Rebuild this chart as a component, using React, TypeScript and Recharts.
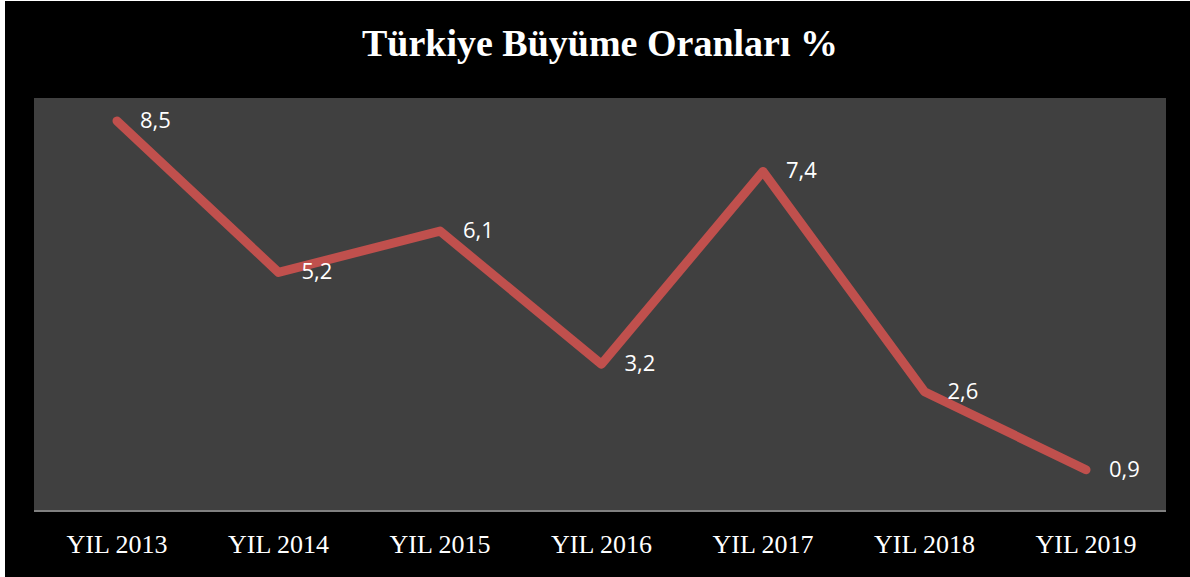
import { LineChart, Line, XAxis, YAxis, LabelList } from 'recharts'

const years = ['YIL 2013', 'YIL 2014', 'YIL 2015', 'YIL 2016', 'YIL 2017', 'YIL 2018', 'YIL 2019']
const growth = [8.5, 5.2, 6.1, 3.2, 7.4, 2.6, 0.9]
const title = 'Türkiye Büyüme Oranları %'

const data = years.map((year, i) => ({ year, value: growth[i] }))

const formatValue = (v: number) => v.toFixed(1).replace('.', ',')

const XTick = ({ x, y, payload }: any) => (
  <text x={x} y={y + 42} textAnchor="middle" fill="#ffffff" fontSize={26} fontFamily="'Liberation Serif', serif">
    {payload.value}
  </text>
)

const ValueLabel = ({ x, y, value }: any) => (
  <text x={x + 23} y={y + 1} dominantBaseline="middle" fill="#ffffff" fontSize={22} fontFamily="'Open Sans', sans-serif">
    {formatValue(value)}
  </text>
)

export default function App() {
  return (
    <div style={{ position: 'absolute', left: 0, top: 0, width: 1190, height: 577, background: '#ffffff' }}>
      <div style={{ position: 'absolute', left: 5, top: 1, width: 1185, height: 576, background: '#000000' }}>
        <div
          style={{
            position: 'absolute',
            left: 0,
            top: 20,
            width: 1190,
            textAlign: 'center',
            color: '#ffffff',
            fontFamily: "'Liberation Serif', serif",
            fontWeight: 'bold',
            fontSize: 38,
            lineHeight: 'normal',
          }}
        >
          {title}
        </div>
        <LineChart width={1185} height={576} data={data} margin={{ top: 97, right: 24, left: 29, bottom: 0 }}>
          <rect x={29} y={97} width={1132} height={413} fill="#404040" />
          <XAxis
            dataKey="year"
            height={66}
            tickLine={false}
            tickSize={0}
            tickMargin={0}
            padding={{ left: 83, right: 80 }}
            axisLine={{ stroke: '#808080', strokeWidth: 2 }}
            tick={<XTick />}
            interval={0}
          />
          <YAxis hide domain={[0, 9]} />
          <Line
            type="linear"
            dataKey="value"
            stroke="#C0504D"
            strokeWidth={9}
            strokeLinecap="round"
            strokeLinejoin="round"
            dot={false}
            activeDot={false}
            isAnimationActive={false}
          >
            <LabelList dataKey="value" content={<ValueLabel />} />
          </Line>
        </LineChart>
      </div>
    </div>
  )
}
